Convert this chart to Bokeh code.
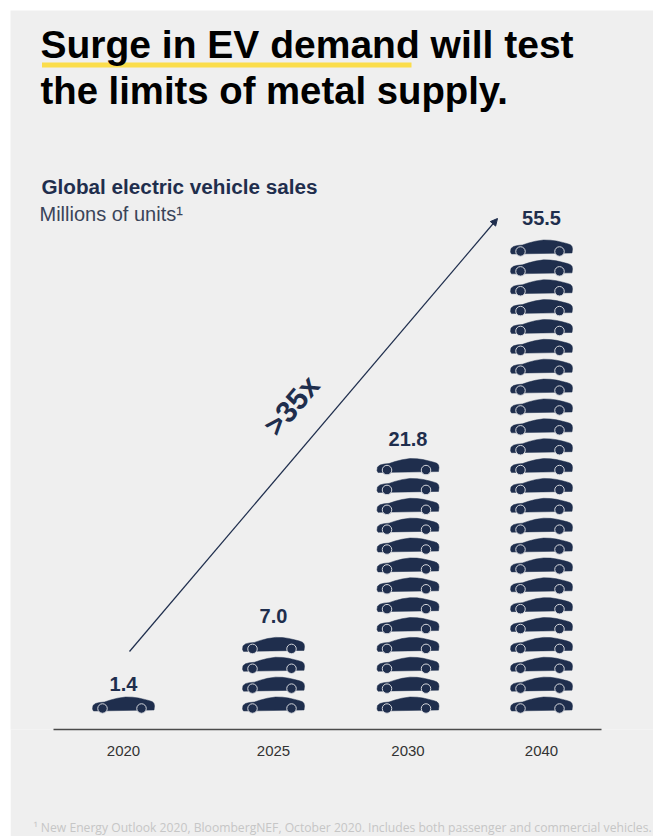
from bokeh.plotting import figure
from bokeh.models import Range1d, Label, Arrow, NormalHead, FixedTicker, BoxAnnotation, Title
from bokeh.embed import file_html
from bokeh.resources import INLINE

# ---- data ----
years = ["2020", "2025", "2030", "2040"]
sales = [1.4, 7.0, 21.8, 55.5]
car_counts = [1, 4, 13, 24]
title_lines = ["Surge in EV demand will test", "the limits of metal supply."]
subtitle = "Global electric vehicle sales"
unit_text = "Millions of units\u00b9"
growth_text = ">35x"
footnote = "\u00b9 New Energy Outlook 2020, BloombergNEF, October 2020. Includes both passenger and commercial vehicles."

# ---- layout ----
BG = "#EFEFEF"
NAVY = "#1F2E4D"
SANS = "Liberation Sans"
slot_x = [123, 273, 407.5, 541]
base_car_y = 704.5
car_step = 19.87
value_gap = [21, 29.5, 28, 29.5]
# car outline relative to its centre, y grows downwards on screen
car_dx = [-31, -30.5, -28, -24, -19, -13, -6, 2, 9, 15, 21, 26, 29, 30.5, 31, 30.5, -30]
car_dy = [4, 0.5, -1.5, -2.5, -3, -5, -6.8, -8, -7.8, -7, -5.6, -4.3, -3.2, -1.5, 1, 5, 6]
wheel_dx = [-21, 18]
wheel_dy = 3.5

p = figure(width=643, height=826, margin=(10, 0, 0, 10),
           x_range=Range1d(10, 653), y_range=Range1d(729, 10),
           output_backend="svg", toolbar_location=None,
           background_fill_color=BG, border_fill_color=BG,
           min_border_left=0, min_border_right=0, min_border_top=0, min_border_bottom=107)
p.outline_line_color = None
p.grid.visible = False
p.yaxis.visible = False
ax = p.xaxis[0]
ax.bounds = (53, 601)
ax.ticker = FixedTicker(ticks=slot_x)
ax.major_label_overrides = {x: y for x, y in zip(slot_x, years)}
ax.major_tick_line_color = None
ax.minor_tick_line_color = None
ax.axis_line_color = "#4A4A4A"
ax.axis_line_width = 1.3
ax.major_label_standoff = 10
ax.major_label_text_font = SANS
ax.major_label_text_font_size = "15px"
ax.major_label_text_color = "#333333"

# yellow rule under the headline
p.add_layout(BoxAnnotation(left=41.5, right=411, top=67, bottom=62, fill_color="#FBDD4B",
                           fill_alpha=1, line_color=None, level="underlay"))

# cars
xs, ys, wx, wy = [], [], [], []
for cx, n in zip(slot_x, car_counts):
    for i in range(n):
        cy = base_car_y - car_step * i
        xs.append([cx + d for d in car_dx])
        ys.append([cy + d for d in car_dy])
        for d in wheel_dx:
            wx.append(cx + d)
            wy.append(cy + wheel_dy)
p.patches(xs, ys, fill_color=NAVY, line_color=NAVY, line_width=0.5, line_join="round")
p.scatter(wx, wy, marker="circle", size=9.5, fill_color=NAVY, line_color="#D5D7DC", line_width=1)

# value labels
for cx, v, n, g in zip(slot_x, sales, car_counts, value_gap):
    p.add_layout(Label(x=cx, y=base_car_y - car_step * (n - 1) - g, text=f"{v:.1f}",
                       text_font=SANS, text_font_style="bold", text_font_size="20px",
                       text_color=NAVY, text_align="center", text_baseline="alphabetic"))

p.add_layout(Label(x=40, y=43.5, text=title_lines[0], text_font=SANS, text_font_style="bold",
                   text_font_size="39px", text_color="#000000", text_baseline="alphabetic"))
p.add_layout(Label(x=40, y=90, text=title_lines[1], text_font=SANS, text_font_style="bold",
                   text_font_size="38.3px", text_color="#000000", text_baseline="alphabetic"))
p.add_layout(Label(x=41, y=186, text=subtitle, text_font=SANS, text_font_style="bold",
                   text_font_size="20.7px", text_color=NAVY, text_baseline="alphabetic"))
p.add_layout(Label(x=39, y=213, text=unit_text, text_font=SANS,
                   text_font_size="20px", text_color="#3A4459", text_baseline="alphabetic"))

# growth arrow
p.add_layout(Arrow(x_start=129, y_start=651, x_end=497, y_end=218, line_color=NAVY, line_width=1.2,
                   end=NormalHead(size=7, fill_color=NAVY, line_color=NAVY)))
p.add_layout(Label(x=291, y=405, text=growth_text, text_font=SANS, text_font_style="bold",
                   text_font_size="30px", text_color=NAVY, angle=49.6, angle_units="deg",
                   text_align="center", text_baseline="middle"))

# footnote in the panel under the axis, pushed down by an empty spacer title
p.add_layout(Title(text="\u00a0", standoff=42, text_font_size="12px"), "below")
p.add_layout(Title(text=footnote, align="left", offset=23, standoff=0, text_font="Open Sans",
                   text_font_size="12.15px", text_font_style="normal", text_color="#C6C6C6"), "below")

open("out.html", "w").write(file_html(p, INLINE))
